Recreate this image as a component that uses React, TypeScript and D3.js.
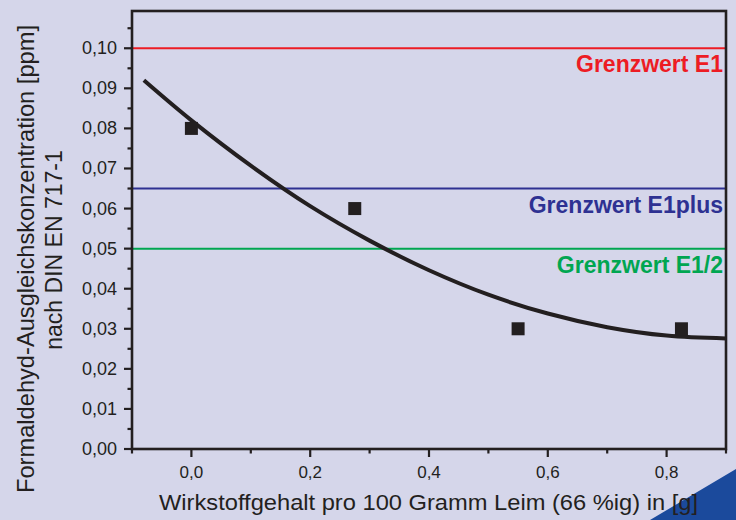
import React from "react";
import * as d3 from "d3";

const pointX = [0, 0.275, 0.55, 0.825];
const pointY = [0.08, 0.06, 0.03, 0.03];

const fitX = [-0.08, 0, 0.1, 0.2, 0.3, 0.4, 0.5, 0.6, 0.7, 0.8, 0.9];
const fitY = [0.092, 0.082, 0.0707, 0.0606, 0.052, 0.0446, 0.0385, 0.0338, 0.0304, 0.0283, 0.0276];

const limitValues = [0.1, 0.065, 0.05];
const limitLabels = ["Grenzwert E1", "Grenzwert E1plus", "Grenzwert E1/2"];
const limitColors = ["#ed1c24", "#2e3192", "#00a651"];

const xMajorTicks = [0, 0.2, 0.4, 0.6, 0.8];
const xTickLabels = ["0,0", "0,2", "0,4", "0,6", "0,8"];
const xMinorTicks = [-0.1, 0.1, 0.3, 0.5, 0.7, 0.9];

const yMajorTicks = [0, 0.01, 0.02, 0.03, 0.04, 0.05, 0.06, 0.07, 0.08, 0.09, 0.1];
const yTickLabels = ["0,00", "0,01", "0,02", "0,03", "0,04", "0,05", "0,06", "0,07", "0,08", "0,09", "0,10"];
const yMinorTicks = [0.005, 0.015, 0.025, 0.035, 0.045, 0.055, 0.065, 0.075, 0.085, 0.095, 0.105];

const xTitle = "Wirkstoffgehalt pro 100 Gramm Leim (66 %ig) in [g]";
const yTitle1 = "Formaldehyd-Ausgleichskonzentration [ppm]";
const yTitle2 = "nach DIN EN 717-1";

const W = 736;
const H = 520;
const L = 132, R = 726, T = 11, B = 449;
const INK = "#231f20";
const FONT = "'Liberation Sans', Arial, Helvetica, sans-serif";

export default function App() {
  const x = d3.scaleLinear().domain([-0.1, 0.9]).range([L, R]);
  const y = d3.scaleLinear().domain([0, 0.1093]).range([B, T]);
  const line = d3
    .line<number>()
    .x((_, i) => x(fitX[i]))
    .y((d) => y(d))
    .curve(d3.curveCatmullRom.alpha(0.5));
  const fitPath = line(fitY) || "";
  const sq = 13;

  return (
    <div style={{ position: "absolute", left: 0, top: 0, width: W, height: H }}>
      <svg width={W} height={H} style={{ display: "block" }} fontFamily={FONT}>
        <rect x={0} y={0} width={W} height={H} fill="#d5d6ea" />
        {limitValues.map((v, i) => (
          <line key={"l" + i} x1={L} x2={R} y1={y(v)} y2={y(v)} stroke={limitColors[i]} strokeWidth={2} />
        ))}
        {limitValues.map((v, i) => (
          <text
            key={"t" + i}
            x={R - 3}
            y={y(v) + 24}
            textAnchor="end"
            fontWeight="bold"
            fontSize={23}
            fill={limitColors[i]}
          >
            {limitLabels[i]}
          </text>
        ))}
        <path d={fitPath} fill="none" stroke={INK} strokeWidth={4} />
        {pointX.map((px, i) => (
          <rect key={"p" + i} x={x(px) - sq / 2} y={y(pointY[i]) - sq / 2} width={sq} height={sq} fill={INK} />
        ))}
        <rect x={L} y={T} width={R - L} height={B - T} fill="none" stroke={INK} strokeWidth={2.6} />
        {xMajorTicks.map((t, i) => (
          <g key={"xm" + i}>
            <line x1={x(t)} x2={x(t)} y1={B} y2={B + 8} stroke={INK} strokeWidth={2.2} />
            <text x={x(t)} y={478} textAnchor="middle" fontSize={17} fill={INK}>
              {xTickLabels[i]}
            </text>
          </g>
        ))}
        {xMinorTicks.map((t, i) => (
          <line key={"xn" + i} x1={x(t)} x2={x(t)} y1={B} y2={B + 4.5} stroke={INK} strokeWidth={2.2} />
        ))}
        {yMajorTicks.map((t, i) => (
          <g key={"ym" + i}>
            <line x1={L - 8} x2={L} y1={y(t)} y2={y(t)} stroke={INK} strokeWidth={2.2} />
            <text x={117} y={y(t) + 6} textAnchor="end" fontSize={18} fill={INK}>
              {yTickLabels[i]}
            </text>
          </g>
        ))}
        {yMinorTicks.map((t, i) => (
          <line key={"yn" + i} x1={L - 4.5} x2={L} y1={y(t)} y2={y(t)} stroke={INK} strokeWidth={2.2} />
        ))}
        <polygon points={`650,${H} ${W},469 ${W},${H}`} fill="#1b4a9c" />
        <text
          x={428.5}
          y={510}
          textAnchor="middle"
          fontSize={22}
          fill={INK}
          textLength={539}
          lengthAdjust="spacingAndGlyphs"
        >
          {xTitle}
        </text>
        <text
          transform="translate(34,259) rotate(-90)"
          textAnchor="middle"
          fontSize={24}
          fill={INK}
          textLength={468}
          lengthAdjust="spacingAndGlyphs"
        >
          {yTitle1}
        </text>
        <text transform="translate(62,250) rotate(-90)" textAnchor="middle" fontSize={23} fill={INK}>
          {yTitle2}
        </text>
      </svg>
    </div>
  );
}
